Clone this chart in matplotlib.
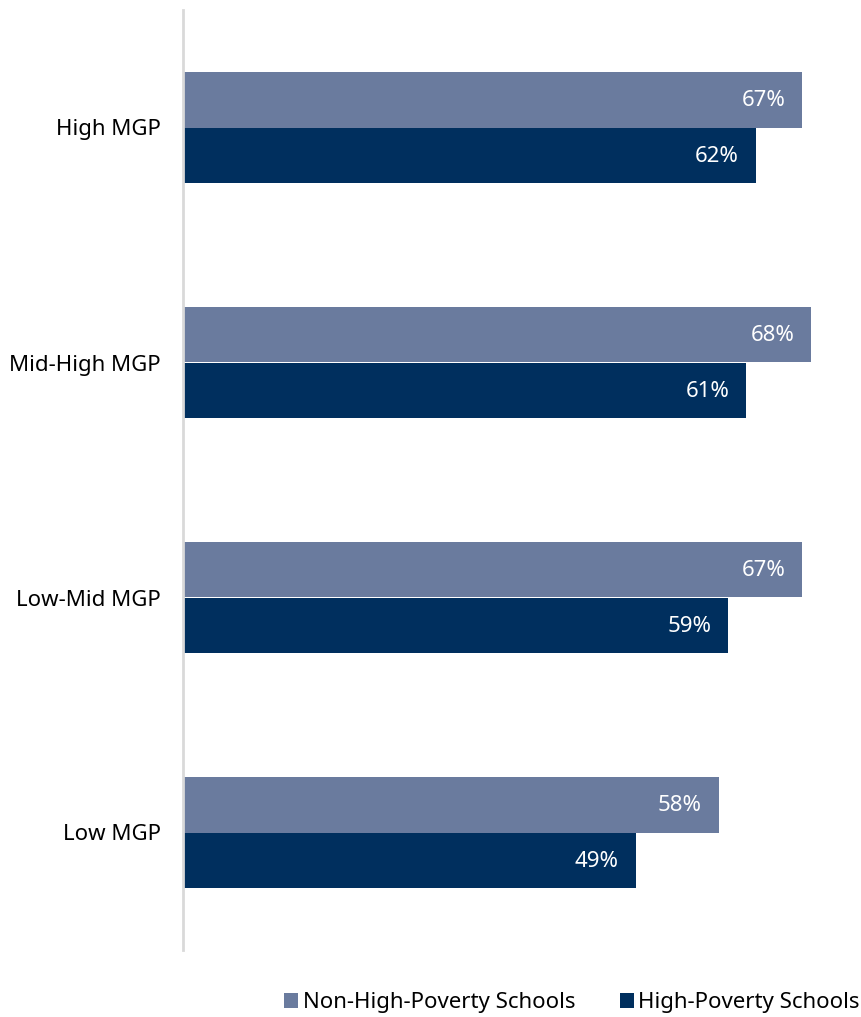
import numpy as np
import matplotlib.pyplot as plt

plt.rcParams['font.family'] = ['Noto Sans', 'DejaVu Sans']

categories = ["High MGP", "Mid-High MGP", "Low-Mid MGP", "Low MGP"]
non_high_poverty = [67, 68, 67, 58]
high_poverty = [62, 61, 59, 49]
series_names = ["Non-High-Poverty Schools", "High-Poverty Schools"]

c_light = "#6a7b9e"
c_dark = "#002f5e"

fig = plt.figure(figsize=(8.61, 10.17), dpi=100)
ax = fig.add_axes([183 / 861, 67 / 1017, 665 / 861, 940 / 1017])

y = np.arange(len(categories))
h = 0.238
b1 = ax.barh(y - h / 2, non_high_poverty, height=h, color=c_light, label=series_names[0])
b2 = ax.barh(y + h / 2, high_poverty, height=h, color=c_dark, label=series_names[1])

for bars, vals in ((b1, non_high_poverty), (b2, high_poverty)):
    for bar, v in zip(bars, vals):
        ax.annotate(f"{v}%", (bar.get_width(), bar.get_y() + bar.get_height() / 2),
                    xytext=(-12, -1), textcoords="offset points",
                    ha="right", va="center", color="white", fontsize=16)

ax.set_xlim(0, 72)
ax.set_ylim(3.5, -0.5)
ax.set_yticks(y)
ax.set_yticklabels(categories, fontsize=16)
ax.tick_params(axis="y", length=0, pad=16)
ax.set_xticks([])
for s in ["top", "right", "bottom"]:
    ax.spines[s].set_visible(False)
ax.spines["left"].set_color("#d9d9d9")
ax.spines["left"].set_linewidth(2)

fig.legend(handles=[b1, b2], loc="lower right", bbox_to_anchor=(1.022, -0.016),
           ncol=2, frameon=False, fontsize=16, handlelength=0.65, handleheight=0.65,
           handletextpad=0.2, columnspacing=2.0)

fig.savefig("out.png", dpi=100)
